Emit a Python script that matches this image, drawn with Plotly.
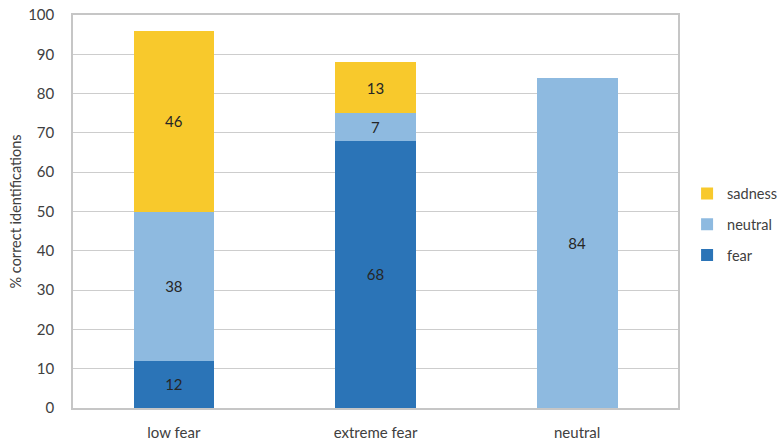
import plotly.graph_objects as go

# Stacked percentages of correct identifications per stimulus category
categories = ["low fear", "extreme fear", "neutral"]
fear = [12, 68, None]
neutral = [38, 7, 84]
sadness = [46, 13, None]

# name, values, colour, legend rank (top of legend first)
series = [
    ("fear", fear, "#2B74B7", 3),
    ("neutral", neutral, "#8EBAE0", 2),
    ("sadness", sadness, "#F8C92C", 1),
]

font_family = "Lato, 'Open Sans', sans-serif"
text_color = "#404040"

fig = go.Figure()
for name, values, color, rank in series:
    fig.add_trace(go.Bar(
        x=categories,
        y=values,
        name=name,
        legendgroup=name,
        legendrank=rank,
        marker=dict(color=color, line=dict(width=0)),
        text=[("" if v is None else str(v)) for v in values],
        textposition="inside",
        insidetextanchor="middle",
        textangle=0,
        textfont=dict(family=font_family, size=15, color="#262626"),
        width=0.4,
    ))

fig.update_layout(
    width=782,
    height=441,
    barmode="stack",
    plot_bgcolor="white",
    paper_bgcolor="white",
    margin=dict(l=73, r=104, t=15, b=33, autoexpand=False),
    font=dict(family=font_family, color=text_color),
    uniformtext=dict(mode="show", minsize=10),
    legend=dict(
        x=1.015, y=0.467, xanchor="left", yanchor="middle",
        xref="paper",
        traceorder="grouped",
        font=dict(size=14.5, color=text_color),
        itemwidth=30,
        tracegroupgap=9,
        bgcolor="rgba(0,0,0,0)",
    ),
    showlegend=True,
)

fig.update_xaxes(
    automargin=False,
    showline=True, linecolor="#C6C6C6", linewidth=1.5, mirror=True,
    showgrid=False, ticks="", tickfont=dict(size=15, color=text_color),
    ticklabelstandoff=10,
)
fig.update_yaxes(
    automargin=False,
    range=[0, 100], dtick=10, tick0=0,
    showline=True, linecolor="#C6C6C6", linewidth=1.5, mirror=True,
    showgrid=True, gridcolor="#CDCDCD", gridwidth=1.2,
    ticks="", tickfont=dict(size=15, color=text_color),
    ticklabelstandoff=14,
    zeroline=False,
)

fig.add_annotation(
    text="% correct identifications",
    xref="paper", yref="paper",
    x=-58 / 605, y=0.5,
    xanchor="center", yanchor="middle",
    textangle=-90, showarrow=False,
    font=dict(size=14.5, color=text_color, family=font_family),
)

fig.write_html("out.html")
